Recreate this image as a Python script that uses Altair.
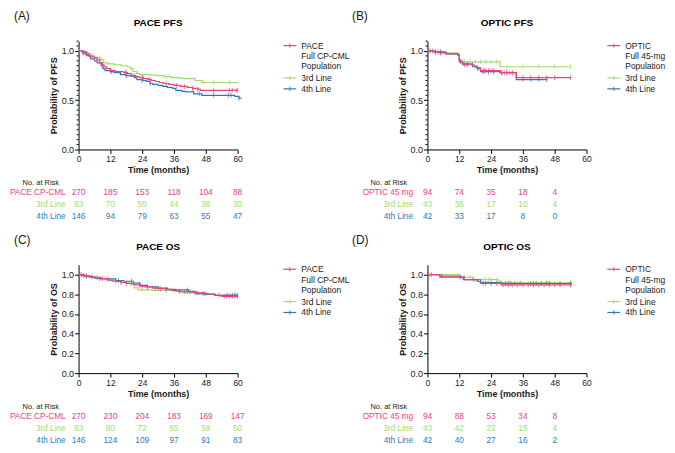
import altair as alt
import pandas as pd
import numpy as np

FONT = "Liberation Sans"
PINK = "#E8437D"
GREEN = "#A4D872"
BLUE = "#2D7CB8"
TXT = "#1a1a1a"

W = 160
H = 109

# ---------------- Panel A: PACE PFS ----------------
A_full_t = [0, 1.5, 2.8, 4, 5, 6, 7, 8, 9, 9.6, 10.5, 12, 14, 17, 18.5, 20, 21.5, 23, 24.5, 26, 27.5, 29, 30.5, 32, 34, 36, 38.5, 41, 43, 45, 46, 60]
A_full_s = [1.0, 0.99, 0.97, 0.95, 0.94, 0.93, 0.91, 0.88, 0.86, 0.84, 0.82, 0.80, 0.79, 0.78, 0.77, 0.75, 0.74, 0.73, 0.72, 0.71, 0.70, 0.69, 0.68, 0.67, 0.66, 0.65, 0.64, 0.63, 0.62, 0.61, 0.60, 0.60]
A_3rd_t = [0, 2, 3.5, 5, 6, 8.5, 9.5, 11, 13.5, 16, 18.3, 19.5, 20.5, 22, 23, 27, 30, 32, 35, 38, 40, 44, 46.5, 60]
A_3rd_s = [1.0, 0.99, 0.97, 0.95, 0.93, 0.91, 0.88, 0.87, 0.86, 0.85, 0.84, 0.82, 0.79, 0.77, 0.76, 0.755, 0.75, 0.74, 0.73, 0.725, 0.72, 0.70, 0.68, 0.68]
A_4th_t = [0, 1.5, 2.8, 3.6, 4.5, 6, 7, 8.5, 9.2, 10, 12, 13.4, 15.8, 18, 19.5, 21, 22, 24, 25.6, 27, 28, 30, 31.8, 33.5, 35.5, 36.7, 39, 40.4, 43.4, 46.5, 59, 60.5, 61.6]
A_4th_s = [1.0, 0.98, 0.96, 0.95, 0.92, 0.90, 0.88, 0.85, 0.82, 0.80, 0.79, 0.78, 0.76, 0.75, 0.745, 0.73, 0.71, 0.70, 0.69, 0.67, 0.66, 0.65, 0.64, 0.63, 0.62, 0.60, 0.59, 0.585, 0.565, 0.55, 0.54, 0.52, 0.52]
A_cens_full = [1.5, 3, 6, 9, 12, 17.7, 18, 21, 24, 24.3, 26.5, 27, 33, 37, 40, 43, 45, 51, 57, 58, 59.5, 60]
A_cens_3rd = [2.5, 7, 8, 22, 33, 47, 51, 57]
A_cens_4th = [2, 9, 12.5, 18, 24, 27, 45.5, 51, 56.5, 57.5, 60.5]
A_risk_t = [0, 12, 24, 36, 48, 60]
A_risk_full = [270, 185, 153, 118, 104, 88]
A_risk_3rd = [93, 70, 59, 44, 38, 30]
A_risk_4th = [146, 94, 79, 63, 55, 47]

# ---------------- Panel B: OPTIC PFS ----------------
B_full_t = [0, 2.2, 4.5, 7, 11.4, 12, 12.5, 13.3, 17.6, 18.2, 20, 27.4, 33.5, 54]
B_full_s = [1.0, 0.99, 0.98, 0.97, 0.96, 0.91, 0.88, 0.86, 0.85, 0.83, 0.80, 0.78, 0.73, 0.73]
B_3rd_t = [0, 3, 5.9, 11.4, 12, 13.3, 27.4, 54]
B_3rd_s = [1.0, 0.99, 0.98, 0.97, 0.91, 0.89, 0.84, 0.84]
B_4th_t = [0, 3, 7, 11.4, 12, 13.3, 17, 18.8, 20, 27.4, 33.5, 45.2]
B_4th_s = [1.0, 0.99, 0.97, 0.96, 0.89, 0.87, 0.84, 0.82, 0.79, 0.78, 0.71, 0.71]
B_cens_full = [1, 2, 3, 4, 5, 14, 15, 17, 19, 21, 21.5, 22, 23, 24, 25, 28, 29, 30, 31, 32, 36, 39, 42, 45, 48, 54]
B_cens_3rd = [1, 3, 5, 14, 16, 18, 20, 22, 24, 26, 30, 36, 42, 48, 54]
B_cens_4th = [3, 5, 15, 19, 21, 23, 25, 28, 30, 32, 36, 39, 42, 45]
B_risk_t = [0, 12, 24, 36, 48]
B_risk_full = [94, 74, 35, 18, 4]
B_risk_3rd = [43, 36, 17, 10, 4]
B_risk_4th = [42, 33, 17, 8, 0]

# ---------------- Panel C: PACE OS ----------------
C_full_t = [0, 1.5, 3, 5, 6.5, 8.5, 10, 11.5, 13, 14.6, 16, 18, 19.5, 21, 23.2, 25, 28, 30.5, 33, 35, 36.7, 39, 42.8, 45, 47.7, 49.5, 51.4, 53.9, 60]
C_full_s = [1.0, 0.99, 0.985, 0.975, 0.97, 0.96, 0.956, 0.945, 0.935, 0.93, 0.92, 0.91, 0.906, 0.895, 0.883, 0.875, 0.862, 0.857, 0.85, 0.84, 0.832, 0.826, 0.822, 0.815, 0.805, 0.80, 0.79, 0.78, 0.78]
C_3rd_t = [0, 2, 4, 6, 8, 10.9, 13, 16, 19.5, 21, 22.5, 28, 35.5, 38, 42, 47.7, 51.4, 60]
C_3rd_s = [1.0, 0.99, 0.98, 0.97, 0.96, 0.94, 0.93, 0.92, 0.91, 0.865, 0.845, 0.84, 0.835, 0.82, 0.815, 0.805, 0.79, 0.79]
C_4th_t = [0, 2, 4, 6, 8, 11, 14, 17, 20.7, 23.2, 26, 30, 33.5, 36.7, 41.6, 44, 47.7, 51.4, 60]
C_4th_s = [1.0, 0.985, 0.975, 0.963, 0.96, 0.956, 0.94, 0.933, 0.913, 0.89, 0.875, 0.862, 0.85, 0.845, 0.83, 0.805, 0.80, 0.79, 0.79]
C_cens_full = [1, 2, 3, 5, 7, 9, 11, 14, 16, 18, 23, 24, 29, 30, 31, 33, 38, 40, 41, 42, 48, 53, 55, 56, 57, 58, 59, 60]
C_cens_3rd = [1, 10, 20, 24, 33, 45, 57, 59]
C_cens_4th = [3, 8, 15, 20, 26, 41, 47, 56, 58, 59, 60]
C_risk_t = [0, 12, 24, 36, 48, 60]
C_risk_full = [270, 230, 204, 183, 169, 147]
C_risk_3rd = [93, 80, 72, 65, 59, 50]
C_risk_4th = [146, 124, 109, 97, 91, 83]

# ---------------- Panel D: OPTIC OS ----------------
D_full_t = [0, 4.7, 12, 13.9, 18.8, 20, 27.8, 54.5]
D_full_s = [1.0, 0.985, 0.975, 0.95, 0.93, 0.91, 0.895, 0.895]
D_3rd_t = [0, 12, 17, 26.8, 27.8, 54.5]
D_3rd_s = [1.0, 0.975, 0.95, 0.935, 0.92, 0.92]
D_4th_t = [0, 4.7, 13.5, 20, 27.8, 54.5]
D_4th_s = [1.0, 0.975, 0.948, 0.92, 0.91, 0.91]
D_cens_full = [0.5, 1.5, 5.5, 12.5, 17.5, 21, 22, 24, 26, 28.5, 30.5, 32, 34, 36, 38, 40, 42, 44, 46, 48, 50, 54]
D_cens_3rd = [12, 14, 16, 21, 22, 23, 24, 26, 31, 45, 54]
D_cens_4th = [29.5, 30.5, 31.5, 33, 35, 39, 40, 41, 43, 45, 46, 50, 54]
D_risk_t = [0, 12, 24, 36, 48]
D_risk_full = [94, 88, 53, 34, 8]
D_risk_3rd = [43, 42, 22, 15, 4]
D_risk_4th = [42, 40, 27, 16, 2]

X_TICKS = [0, 12, 24, 36, 48, 60]
Y_TICKS_PFS = [0.0, 0.5, 1.0]
Y_MINOR_PFS = [0.05, 0.1, 0.15, 0.2, 0.25, 0.3, 0.35, 0.4, 0.45, 0.55, 0.6, 0.65, 0.7, 0.75, 0.8, 0.85, 0.9, 0.95, 1.05, 1.1]
Y_TICKS_OS = [0.0, 0.2, 0.4, 0.6, 0.8, 1.0]

ONE = pd.DataFrame({"_": [0]})


def x_enc():
    return alt.X("t:Q", scale=alt.Scale(domain=[0, 60], nice=False, zero=False),
                 axis=alt.Axis(values=X_TICKS, title="Time (months)", labelFontSize=8.5,
                               titleFontSize=9, titleFontWeight="bold", tickSize=4,
                               labelPadding=1, titlePadding=3, labelFlush=False,
                               domainColor="black", tickColor="black", labelColor=TXT,
                               titleColor=TXT, grid=False, labelFont=FONT, titleFont=FONT))


def y_enc(ticks, title):
    return alt.Y("s:Q", scale=alt.Scale(domain=[0, 1.1], nice=False, zero=False),
                 axis=alt.Axis(values=ticks, format=".1f", title=title, labelFontSize=9,
                               titleFontSize=9, titleFontWeight="bold", tickSize=4,
                               labelPadding=1, titlePadding=3, labelFlush=False,
                               domainColor="black", tickColor="black", labelColor=TXT,
                               titleColor=TXT, grid=False, labelFont=FONT, titleFont=FONT))


def label(text, x, y, size=8.5, color=TXT, align="left", weight="normal"):
    return alt.Chart(ONE).mark_text(text=text, align=align, baseline="middle", fontSize=size,
                                    fontWeight=weight, color=color, font=FONT).encode(
        x=alt.value(x), y=alt.value(y))


def step_at(ts, ss, x):
    i = int(np.searchsorted(ts, x, side="right")) - 1
    return ss[max(i, 0)]


def panel(letter, letter_dx, title, ytitle, yticks, yminor, curves, risk_t, risks,
          row_labels, lab_dx, nar_dx, leg_dx, leg_names):
    layers = []
    xe = x_enc()
    ye = y_enc(yticks, ytitle)
    # minor ticks on y axis
    if yminor:
        layers.append(alt.Chart(pd.DataFrame({"s": yminor})).mark_rule(color="black", strokeWidth=1)
                      .encode(y=ye, x=alt.value(-2), x2=alt.value(0)))
    # curves: draw green, blue then pink on top
    for idx in [1, 2, 0]:
        ts, ss, cens, col = curves[idx]
        df = pd.DataFrame({"t": ts, "s": ss})
        layers.append(alt.Chart(df).mark_line(interpolate="step-after", strokeWidth=1.2, color=col)
                      .encode(x=xe, y=ye))
        cdf = pd.DataFrame({"t": cens, "s": [step_at(ts, ss, c) for c in cens]})
        layers.append(alt.Chart(cdf).mark_tick(orient="vertical", size=5, thickness=1, color=col)
                      .encode(x=xe, y=ye))
    # title and letter
    layers.append(label(title, W / 2, -18, size=10, align="center", weight="bold", color="black"))
    layers.append(label(letter, letter_dx, -25, size=12, color=TXT))
    # legend
    lx0, lx1, tx = W + leg_dx, W + leg_dx + 13, W + leg_dx + 18
    leg_rows = [4.5, 37, 48]
    cols = [PINK, GREEN, BLUE]
    for yy, col in zip(leg_rows, cols):
        layers.append(alt.Chart(ONE).mark_rule(color=col, strokeWidth=1.2)
                      .encode(x=alt.value(lx0), x2=alt.value(lx1), y=alt.value(yy)))
        layers.append(alt.Chart(ONE).mark_rule(color=col, strokeWidth=1)
                      .encode(x=alt.value((lx0 + lx1) / 2), y=alt.value(yy - 2), y2=alt.value(yy + 2)))
    for txt, yy in zip(leg_names, [4.5, 15, 25.5, 37, 48]):
        layers.append(label(txt, tx, yy, size=8.5, color=TXT))
    # risk table
    layers.append(label("No. at Risk", nar_dx, H + 34, size=7.5, align="center", color=TXT))
    for k, (vals, col, rl) in enumerate(zip(risks, cols, row_labels)):
        yy = H + 44 + 12 * k
        rdf = pd.DataFrame({"t": risk_t, "n": vals})
        layers.append(alt.Chart(rdf).mark_text(fontSize=8.3, font=FONT, color=col, baseline="middle",
                                               align="center")
                      .encode(x=xe, y=alt.value(yy), text="n:Q"))
        layers.append(label(rl, lab_dx, yy, size=8.3, align="right", color=col))
    return alt.layer(*layers).properties(width=W, height=H)


pA = panel("(A)", -65, "PACE PFS", "Probability of PFS", Y_TICKS_PFS, Y_MINOR_PFS,
           [(A_full_t, A_full_s, A_cens_full, PINK), (A_3rd_t, A_3rd_s, A_cens_3rd, GREEN),
            (A_4th_t, A_4th_s, A_cens_4th, BLUE)],
           A_risk_t, [A_risk_full, A_risk_3rd, A_risk_4th],
           ["PACE CP-CML", "3rd Line", "4th Line"], -13, -38, 46,
           ["PACE", "Full CP-CML", "Population", "3rd Line", "4th Line"])
pB = panel("(B)", -76, "OPTIC PFS", "Probability of PFS", Y_TICKS_PFS, Y_MINOR_PFS,
           [(B_full_t, B_full_s, B_cens_full, PINK), (B_3rd_t, B_3rd_s, B_cens_3rd, GREEN),
            (B_4th_t, B_4th_s, B_cens_4th, BLUE)],
           B_risk_t, [B_risk_full, B_risk_3rd, B_risk_4th],
           ["OPTIC 45 mg", "3rd Line", "4th Line"], -14.5, -39, 21,
           ["OPTIC", "Full 45-mg", "Population", "3rd Line", "4th Line"])
pC = panel("(C)", -65, "PACE OS", "Probability of OS", Y_TICKS_OS, None,
           [(C_full_t, C_full_s, C_cens_full, PINK), (C_3rd_t, C_3rd_s, C_cens_3rd, GREEN),
            (C_4th_t, C_4th_s, C_cens_4th, BLUE)],
           C_risk_t, [C_risk_full, C_risk_3rd, C_risk_4th],
           ["PACE CP-CML", "3rd Line", "4th Line"], -13, -38, 46,
           ["PACE", "Full CP-CML", "Population", "3rd Line", "4th Line"])
pD = panel("(D)", -76, "OPTIC OS", "Probability of OS", Y_TICKS_OS, None,
           [(D_full_t, D_full_s, D_cens_full, PINK), (D_3rd_t, D_3rd_s, D_cens_3rd, GREEN),
            (D_4th_t, D_4th_s, D_cens_4th, BLUE)],
           D_risk_t, [D_risk_full, D_risk_3rd, D_risk_4th],
           ["OPTIC 45 mg", "3rd Line", "4th Line"], -14.5, -39, 21,
           ["OPTIC", "Full 45-mg", "Population", "3rd Line", "4th Line"])

chart = alt.concat(pA, pB, pC, pD, columns=2, spacing={"row": 116, "column": 191},
                   bounds="flush").properties(
    padding={"left": 1, "top": 1, "right": 1, "bottom": 1}, background="white"
).configure_view(stroke=None)

chart.save("out.html", embed_options={"renderer": "svg", "actions": False})
